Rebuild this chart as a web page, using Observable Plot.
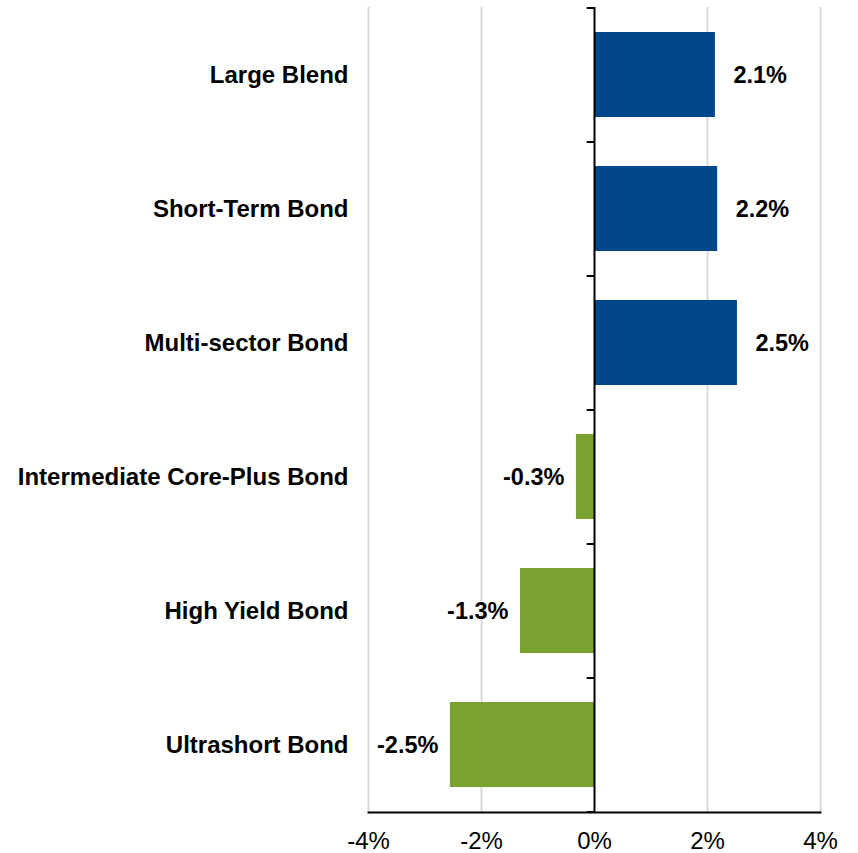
<!DOCTYPE html>
<html>
<head>
<meta charset="utf-8">
<script src="https://cdn.jsdelivr.net/npm/d3@7"></script>
<script src="https://cdn.jsdelivr.net/npm/@observablehq/plot@0.6"></script>
<style>
  html, body { margin: 0; padding: 0; background: #fff; }
  svg { font-family: Arial, "Liberation Sans", sans-serif; }
</style>
</head>
<body>
<div id="chart"></div>
<script>
const categories = ["Large Blend", "Short-Term Bond", "Multi-sector Bond", "Intermediate Core-Plus Bond", "High Yield Bond", "Ultrashort Bond"];
const values = [2.14, 2.18, 2.53, -0.32, -1.31, -2.55];
const valueLabels = ["2.1%", "2.2%", "2.5%", "-0.3%", "-1.3%", "-2.5%"];
const xTicks = [-4, -2, 0, 2, 4];
const gridTicks = [-4, -2, 2, 4];

const blue = "#00468b";
const green = "#7ba12f";

const data = categories.map((c, i) => ({cat: c, value: values[i], label: valueLabels[i]}));

const chart = Plot.plot({
  width: 858,
  height: 853,
  marginLeft: 368,
  marginRight: 38,
  marginTop: 7,
  marginBottom: 41,
  style: {fontFamily: 'Arial, "Liberation Sans", sans-serif', background: "#fff"},
  x: {domain: [-4, 4], ticks: xTicks, label: null},
  y: {domain: categories, paddingInner: 0.366, paddingOuter: 0.183, label: null},
  color: {type: "identity"},
  marks: [
    Plot.ruleX(gridTicks, {x: d => d, stroke: "#d9d9d9", strokeWidth: 2}),
    Plot.barX(data, {x: "value", y: "cat", fill: d => d.value >= 0 ? blue : green}),
    Plot.ruleX([0], {stroke: "#000", strokeWidth: 2}),
    Plot.ruleY(categories, {y: d => d, x1: -0.13, x2: 0, dy: -67, stroke: "#000", strokeWidth: 2}),
    Plot.ruleY([categories[categories.length - 1]], {y: d => d, x1: -0.13, x2: 0, dy: 67, stroke: "#000", strokeWidth: 2}),
    Plot.text(data.filter(d => d.value >= 0), {x: "value", y: "cat", text: "label", textAnchor: "start", dx: 18, fontSize: 23.5, fontWeight: "bold", fill: "#000"}),
    Plot.text(data.filter(d => d.value < 0), {x: "value", y: "cat", text: "label", textAnchor: "end", dx: -12, fontSize: 23.5, fontWeight: "bold", fill: "#000"}),
    Plot.axisY({tickSize: 0, tickPadding: 20, fontSize: 24, fontWeight: "bold", label: null, color: "#000"}),
    Plot.axisX(xTicks, {anchor: "bottom", tickSize: 0, tickPadding: 19, fontSize: 24, tickFormat: d => d + "%", label: null, color: "#000"}),
    Plot.frame({anchor: "bottom", stroke: "#000", strokeWidth: 2})
  ]
});
document.getElementById("chart").appendChild(chart);
</script>
</body>
</html>
